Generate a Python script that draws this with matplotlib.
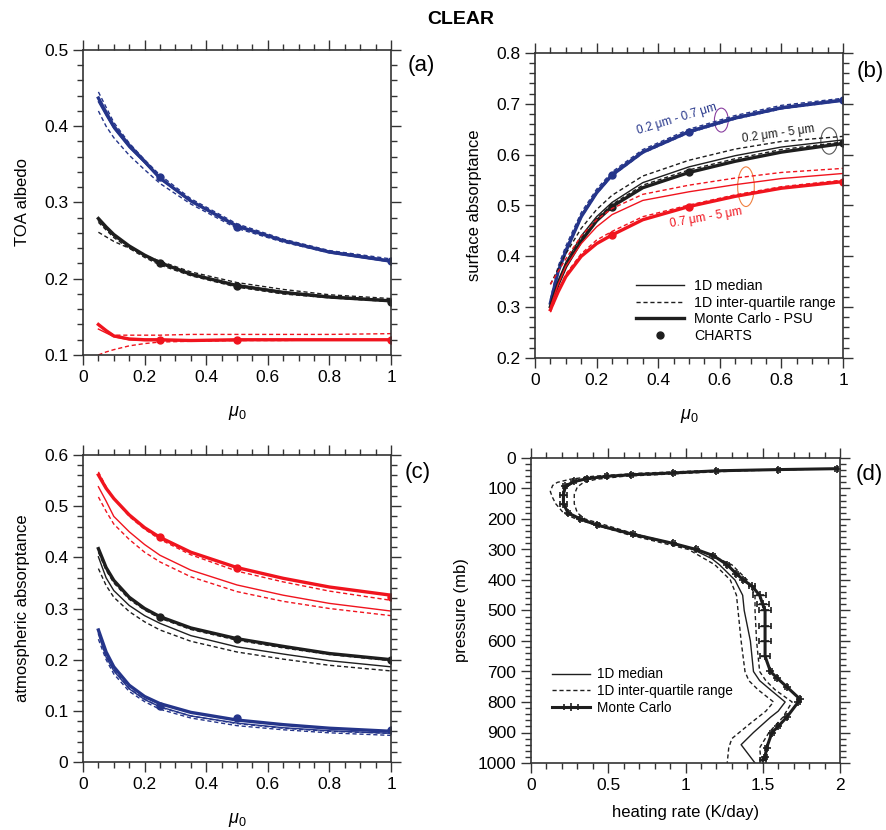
import matplotlib
matplotlib.use("Agg")
import matplotlib.pyplot as plt
from matplotlib.patches import Ellipse
from matplotlib.ticker import MultipleLocator

plt.rcParams['font.family'] = ['Liberation Sans', 'DejaVu Sans']
plt.rcParams['mathtext.fontset'] = 'custom'
plt.rcParams['mathtext.it'] = 'Liberation Sans:italic'
plt.rcParams['mathtext.rm'] = 'Liberation Sans'

BLUE = '#25358a'
RED = '#f0141e'
BLACK = '#1e1e1e'

# ---------------- data ----------------
mu = [0.05, 0.075, 0.1, 0.15, 0.2, 0.25, 0.35, 0.5, 0.65, 0.8, 1.0]
mu_charts = [0.25, 0.5, 1.0]

# (a) TOA albedo
a_blue_mc = [0.437, 0.418, 0.400, 0.375, 0.354, 0.332, 0.302, 0.269, 0.250, 0.235, 0.223]
a_blue_med = [0.432, 0.414, 0.397, 0.372, 0.352, 0.331, 0.302, 0.270, 0.250, 0.236, 0.224]
a_blue_q3 = [0.445, 0.425, 0.405, 0.378, 0.356, 0.336, 0.305, 0.272, 0.252, 0.237, 0.226]
a_blue_q1 = [0.420, 0.400, 0.385, 0.362, 0.343, 0.325, 0.298, 0.266, 0.248, 0.234, 0.222]
a_black_mc = [0.279, 0.268, 0.258, 0.243, 0.231, 0.221, 0.206, 0.191, 0.182, 0.176, 0.171]
a_black_med = [0.276, 0.266, 0.256, 0.242, 0.230, 0.220, 0.206, 0.192, 0.183, 0.177, 0.172]
a_black_q3 = [0.261, 0.255, 0.249, 0.240, 0.231, 0.223, 0.209, 0.195, 0.186, 0.179, 0.174]
a_black_q1 = [0.274, 0.264, 0.254, 0.240, 0.228, 0.218, 0.204, 0.189, 0.180, 0.175, 0.170]
a_red_mc = [0.140, 0.132, 0.125, 0.121, 0.120, 0.120, 0.119, 0.120, 0.120, 0.120, 0.120]
a_red_med = [0.134, 0.129, 0.124, 0.120, 0.119, 0.119, 0.119, 0.119, 0.120, 0.120, 0.120]
a_red_q3 = [0.139, 0.132, 0.126, 0.126, 0.126, 0.126, 0.127, 0.127, 0.127, 0.127, 0.128]
a_red_q1 = [0.100, 0.104, 0.107, 0.112, 0.115, 0.117, 0.118, 0.119, 0.119, 0.120, 0.120]
a_blue_ch = [0.333, 0.268, 0.223]
a_black_ch = [0.221, 0.190, 0.170]
a_red_ch = [0.120, 0.120, 0.120]

# (b) surface absorptance
b_blue_mc = [0.308, 0.370, 0.410, 0.478, 0.525, 0.560, 0.605, 0.645, 0.672, 0.692, 0.707]
b_blue_med = [0.310, 0.373, 0.414, 0.481, 0.528, 0.563, 0.607, 0.647, 0.674, 0.694, 0.709]
b_blue_q3 = [0.315, 0.380, 0.420, 0.486, 0.532, 0.566, 0.610, 0.650, 0.677, 0.697, 0.711]
b_blue_q1 = [0.306, 0.368, 0.408, 0.476, 0.523, 0.558, 0.603, 0.643, 0.670, 0.690, 0.706]
b_black_mc = [0.301, 0.345, 0.380, 0.430, 0.470, 0.498, 0.535, 0.565, 0.587, 0.605, 0.622]
b_black_med = [0.305, 0.352, 0.388, 0.440, 0.478, 0.506, 0.545, 0.576, 0.598, 0.615, 0.629]
b_black_q3 = [0.345, 0.375, 0.405, 0.455, 0.492, 0.520, 0.558, 0.589, 0.611, 0.626, 0.636]
b_black_q1 = [0.300, 0.348, 0.385, 0.436, 0.474, 0.502, 0.540, 0.570, 0.592, 0.610, 0.625]
b_red_mc = [0.295, 0.330, 0.360, 0.400, 0.425, 0.442, 0.472, 0.498, 0.518, 0.534, 0.547]
b_red_med = [0.300, 0.345, 0.380, 0.425, 0.458, 0.482, 0.510, 0.527, 0.541, 0.553, 0.563]
b_red_q3 = [0.345, 0.370, 0.395, 0.440, 0.472, 0.494, 0.522, 0.540, 0.554, 0.565, 0.573]
b_red_q1 = [0.290, 0.330, 0.365, 0.405, 0.432, 0.449, 0.478, 0.501, 0.521, 0.537, 0.550]
b_blue_ch = [0.560, 0.644, 0.707]
b_black_ch = [0.498, 0.566, 0.622]
b_red_ch = [0.442, 0.498, 0.547]

# (c) atmospheric absorptance
c_red_mc = [0.561, 0.535, 0.515, 0.483, 0.458, 0.439, 0.410, 0.380, 0.359, 0.342, 0.326]
c_red_q3 = [0.567, 0.538, 0.515, 0.480, 0.455, 0.435, 0.405, 0.373, 0.352, 0.334, 0.316]
c_red_med = [0.538, 0.510, 0.480, 0.450, 0.425, 0.404, 0.375, 0.346, 0.326, 0.310, 0.295]
c_red_q1 = [0.518, 0.490, 0.465, 0.435, 0.410, 0.391, 0.362, 0.333, 0.314, 0.300, 0.286]
c_black_mc = [0.417, 0.380, 0.355, 0.322, 0.300, 0.284, 0.262, 0.241, 0.226, 0.212, 0.200]
c_black_q3 = [0.410, 0.375, 0.350, 0.318, 0.297, 0.281, 0.259, 0.238, 0.223, 0.210, 0.198]
c_black_med = [0.401, 0.360, 0.335, 0.306, 0.286, 0.271, 0.247, 0.225, 0.211, 0.198, 0.186]
c_black_q1 = [0.378, 0.345, 0.322, 0.294, 0.274, 0.258, 0.236, 0.215, 0.201, 0.189, 0.178]
c_blue_mc = [0.258, 0.215, 0.186, 0.150, 0.128, 0.114, 0.097, 0.082, 0.073, 0.066, 0.060]
c_blue_med = [0.250, 0.205, 0.178, 0.143, 0.122, 0.108, 0.090, 0.076, 0.067, 0.061, 0.056]
c_blue_q3 = [0.255, 0.208, 0.180, 0.144, 0.123, 0.107, 0.090, 0.075, 0.066, 0.060, 0.056]
c_blue_q1 = [0.240, 0.200, 0.172, 0.138, 0.118, 0.103, 0.086, 0.071, 0.063, 0.057, 0.052]
c_red_ch = [0.440, 0.380, 0.322]
c_black_ch = [0.284, 0.241, 0.200]
c_blue_ch = [0.110, 0.086, 0.062]

# (d) heating rate profiles
d_mc_p = [35, 38, 42, 49, 55, 60, 68, 77, 93, 120, 150, 180, 200, 220, 250, 280, 300, 320,
          350, 380, 400, 420, 450, 480, 500, 550, 600, 650, 700, 720, 750, 790, 800, 850,
          880, 900, 950, 980, 990]
d_mc_hr = [1.98, 1.60, 1.20, 0.92, 0.65, 0.49, 0.36, 0.28, 0.22, 0.21, 0.21, 0.24, 0.32, 0.43,
           0.66, 0.92, 1.07, 1.18, 1.27, 1.33, 1.375, 1.43, 1.48, 1.50, 1.515, 1.515, 1.515,
           1.515, 1.55, 1.59, 1.655, 1.74, 1.73, 1.655, 1.60, 1.56, 1.525, 1.515, 1.50]
d_mc_err = [0.01, 0.01, 0.01, 0.01, 0.01, 0.01, 0.01, 0.01, 0.01, 0.02, 0.02, 0.01, 0.01, 0.01,
            0.01, 0.01, 0.01, 0.01, 0.01, 0.01, 0.01, 0.02, 0.04, 0.04, 0.04, 0.04, 0.04,
            0.03, 0.01, 0.01, 0.01, 0.01, 0.01, 0.01, 0.01, 0.01, 0.01, 0.01, 0.02]
d_med_p = [35, 42, 50, 60, 70, 80, 95, 120, 150, 180, 200, 220, 250, 280, 300, 330, 350, 380,
           400, 450, 500, 550, 600, 650, 700, 730, 760, 800, 830, 850, 900, 940, 1000]
d_med_hr = [1.98, 1.20, 0.85, 0.50, 0.35, 0.28, 0.23, 0.21, 0.21, 0.24, 0.31, 0.42, 0.64, 0.90,
            1.05, 1.17, 1.22, 1.28, 1.32, 1.37, 1.38, 1.40, 1.42, 1.43, 1.44, 1.48, 1.55,
            1.645, 1.60, 1.55, 1.44, 1.36, 1.45]
d_q1_p = [35, 42, 50, 60, 70, 80, 90, 110, 130, 150, 180, 200, 250, 300, 350, 400, 450, 500,
          600, 700, 730, 760, 800, 830, 870, 920, 950, 1000]
d_q1_hr = [1.98, 1.10, 0.70, 0.40, 0.25, 0.17, 0.14, 0.125, 0.14, 0.16, 0.21, 0.29, 0.62, 1.02,
           1.19, 1.29, 1.33, 1.34, 1.36, 1.385, 1.41, 1.47, 1.57, 1.52, 1.42, 1.30, 1.28, 1.27]
d_q3_p = [35, 42, 50, 60, 70, 80, 95, 120, 150, 180, 200, 250, 300, 350, 400, 450, 500, 600,
          700, 730, 760, 800, 850, 900, 950, 1000]
d_q3_hr = [1.99, 1.35, 1.00, 0.60, 0.42, 0.34, 0.30, 0.28, 0.28, 0.30, 0.35, 0.68, 1.08, 1.30,
           1.40, 1.45, 1.45, 1.46, 1.48, 1.52, 1.58, 1.69, 1.63, 1.54, 1.48, 1.49]

# ---------------- figure ----------------
fig = plt.figure(figsize=(8.86, 8.30), dpi=100)
W, H = 886, 830


def add_ax(l, r, t, b):
    return fig.add_axes([l / W, 1 - b / H, (r - l) / W, (b - t) / H])


axa = add_ax(83, 391, 50, 355)
axb = add_ax(535, 843, 53, 358)
axc = add_ax(83, 391, 455, 762)
axd = add_ax(531, 840, 458, 763)

TL = 12.5


def style(ax):
    ax.tick_params(which='both', direction='out', top=True, right=True,
                   labelsize=TL, width=1.0, color='#333333')
    ax.tick_params(which='major', length=7)
    ax.tick_params(which='minor', length=4)
    for s in ax.spines.values():
        s.set_linewidth(1.2)
        s.set_color('#333333')


def curves(ax, med, q1, q3, mc, ch, color):
    ax.plot(mu, med, color=color, lw=1.0)
    ax.plot(mu, q1, color=color, lw=1.0, ls=(0, (3, 2)))
    ax.plot(mu, q3, color=color, lw=1.0, ls=(0, (3, 2)))
    ax.plot(mu, mc, color=color, lw=2.4)
    ax.plot(mu_charts, ch, 'o', color=color, ms=5)


def yticks(ax, vals, labels):
    ax.set_yticks(vals)
    ax.set_yticklabels(labels)


# (a)
curves(axa, a_blue_med, a_blue_q1, a_blue_q3, a_blue_mc, a_blue_ch, BLUE)
curves(axa, a_black_med, a_black_q1, a_black_q3, a_black_mc, a_black_ch, BLACK)
curves(axa, a_red_med, a_red_q1, a_red_q3, a_red_mc, a_red_ch, RED)
axa.set_xlim(0, 1)
axa.set_ylim(0.1, 0.5)
axa.yaxis.set_minor_locator(MultipleLocator(0.02))
yticks(axa, [0.1, 0.2, 0.3, 0.4, 0.5], ['0.1', '0.2', '0.3', '0.4', '0.5'])
axa.set_ylabel('TOA albedo', fontsize=12, labelpad=10)

# (b)
curves(axb, b_blue_med, b_blue_q1, b_blue_q3, b_blue_mc, b_blue_ch, BLUE)
curves(axb, b_black_med, b_black_q1, b_black_q3, b_black_mc, b_black_ch, BLACK)
curves(axb, b_red_med, b_red_q1, b_red_q3, b_red_mc, b_red_ch, RED)
axb.set_xlim(0, 1)
axb.set_ylim(0.2, 0.8)
axb.yaxis.set_minor_locator(MultipleLocator(0.02))
yticks(axb, [0.2, 0.3, 0.4, 0.5, 0.6, 0.7, 0.8], ['0.2', '0.3', '0.4', '0.5', '0.6', '0.7', '0.8'])
axb.set_ylabel('surface absorptance', fontsize=12, labelpad=10)
axb.text(0.46, 0.670, '0.2 \u03bcm - 0.7 \u03bcm', color=BLUE, fontsize=8.5, rotation=17,
         ha='center', va='center')
axb.text(0.79, 0.640, '0.2 \u03bcm - 5 \u03bcm', color=BLACK, fontsize=8.5, rotation=8,
         ha='center', va='center')
axb.text(0.555, 0.476, '0.7 \u03bcm - 5 \u03bcm', color=RED, fontsize=8.5, rotation=10,
         ha='center', va='center')
axb.add_patch(Ellipse((0.605, 0.668), 0.045, 0.047, fill=False, ec='#8a3fa0', lw=0.8))
axb.add_patch(Ellipse((0.955, 0.627), 0.054, 0.052, fill=False, ec='#555555', lw=0.8))
axb.add_patch(Ellipse((0.685, 0.537), 0.054, 0.078, fill=False, ec='#f08040', lw=0.8))
h1, = axb.plot([], [], color=BLACK, lw=1.0)
h2, = axb.plot([], [], color=BLACK, lw=1.0, ls=(0, (3, 2)))
h3, = axb.plot([], [], color=BLACK, lw=2.4)
h4, = axb.plot([], [], 'o', color=BLACK, ms=5)
axb.legend([h1, h2, h3, h4], ['1D median', '1D inter-quartile range', 'Monte Carlo - PSU', 'CHARTS'],
           loc='lower left', bbox_to_anchor=(0.31, 0.03), frameon=False, fontsize=10.2,
           handlelength=3.4, handletextpad=0.7, labelspacing=0.2, borderaxespad=0)

# (c)
curves(axc, c_red_med, c_red_q1, c_red_q3, c_red_mc, c_red_ch, RED)
curves(axc, c_black_med, c_black_q1, c_black_q3, c_black_mc, c_black_ch, BLACK)
curves(axc, c_blue_med, c_blue_q1, c_blue_q3, c_blue_mc, c_blue_ch, BLUE)
axc.set_xlim(0, 1)
axc.set_ylim(0, 0.6)
axc.yaxis.set_minor_locator(MultipleLocator(0.02))
yticks(axc, [0, 0.1, 0.2, 0.3, 0.4, 0.5, 0.6], ['0', '0.1', '0.2', '0.3', '0.4', '0.5', '0.6'])
axc.set_ylabel('atmospheric absorptance', fontsize=12, labelpad=10)

for ax in (axa, axb, axc):
    ax.xaxis.set_minor_locator(MultipleLocator(0.05))
    ax.set_xticks([0, 0.2, 0.4, 0.6, 0.8, 1.0])
    ax.set_xticklabels(['0', '0.2', '0.4', '0.6', '0.8', '1'])
    ax.set_xlabel(r'$\mu_0$', fontsize=13, labelpad=14)
    style(ax)

# (d)
axd.plot(d_med_hr, d_med_p, color=BLACK, lw=1.0, label='1D median')
axd.plot(d_q1_hr, d_q1_p, color=BLACK, lw=1.0, ls=(0, (3, 2)), label='1D inter-quartile range')
axd.plot(d_q3_hr, d_q3_p, color=BLACK, lw=1.0, ls=(0, (3, 2)))
axd.errorbar(d_mc_hr, d_mc_p, xerr=d_mc_err, color=BLACK, lw=2.2, marker='+', ms=6, mew=1.2,
             elinewidth=1.0, capsize=2.0, label='Monte Carlo')
axd.set_xlim(0, 2)
axd.set_ylim(1000, 0)
axd.xaxis.set_minor_locator(MultipleLocator(0.1))
axd.yaxis.set_major_locator(MultipleLocator(100))
axd.yaxis.set_minor_locator(MultipleLocator(20))
axd.set_xticks([0, 0.5, 1, 1.5, 2])
axd.set_xticklabels(['0', '0.5', '1', '1.5', '2'])
axd.set_xlabel('heating rate (K/day)', fontsize=12, labelpad=9)
axd.set_ylabel('pressure (mb)', fontsize=12, labelpad=6)
style(axd)
axd.legend(loc='lower left', bbox_to_anchor=(0.05, 0.14), frameon=False, fontsize=9.8,
           handlelength=2.8, handletextpad=0.5, labelspacing=0.2, borderaxespad=0)

# panel labels and title
for x, y, s in [(421, 66, '(a)'), (870, 72, '(b)'), (418, 472, '(c)'), (869, 474, '(d)')]:
    fig.text(x / W, 1 - y / H, s, fontsize=16, ha='center', va='center')
fig.text(461 / W, 1 - 19 / H, 'CLEAR', fontsize=14, fontweight='bold', ha='center', va='center')

fig.savefig('out.png', dpi=100)
